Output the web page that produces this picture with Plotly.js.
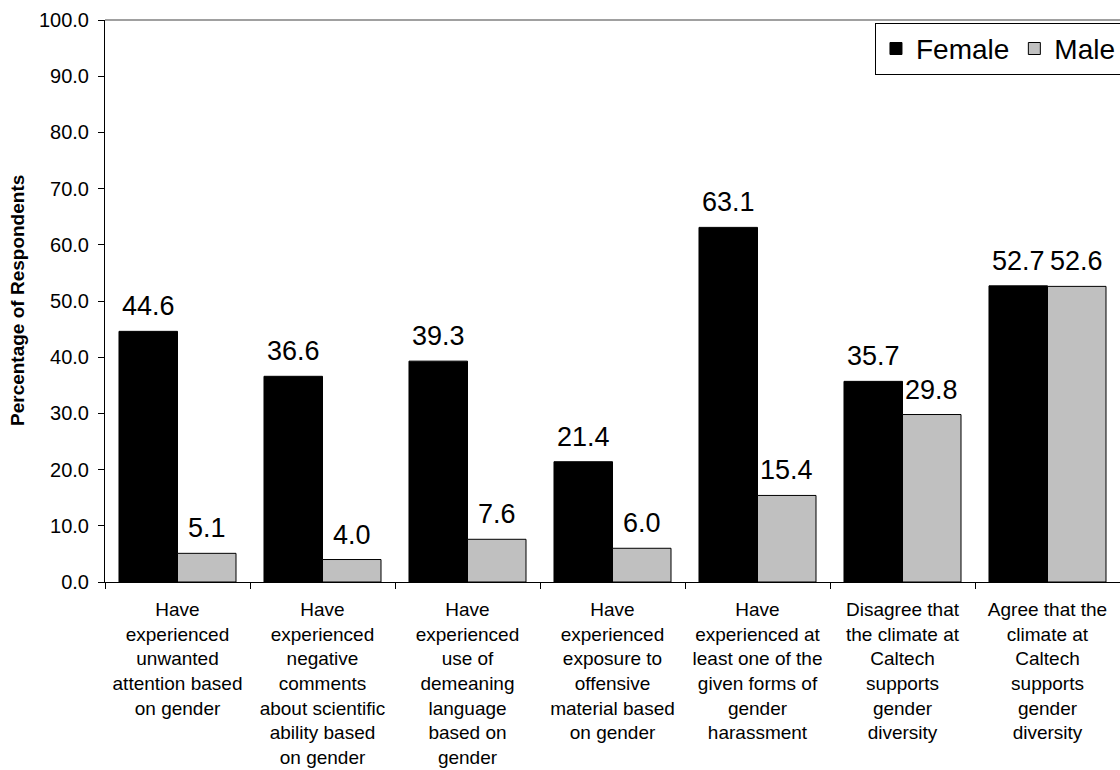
<!DOCTYPE html>
<html>
<head>
<meta charset="utf-8">
<script src="https://cdn.plot.ly/plotly-3.0.1.min.js"></script>
<style>
  html, body { margin: 0; padding: 0; background: #ffffff; }
  #chart { width: 1120px; height: 770px; }
</style>
</head>
<body>
<div id="chart"></div>
<script>
const categories = [
  "Have<br>experienced<br>unwanted<br>attention based<br>on gender",
  "Have<br>experienced<br>negative<br>comments<br>about scientific<br>ability based<br>on gender",
  "Have<br>experienced<br>use of<br>demeaning<br>language<br>based on<br>gender",
  "Have<br>experienced<br>exposure to<br>offensive<br>material based<br>on gender",
  "Have<br>experienced at<br>least one of the<br>given forms of<br>gender<br>harassment",
  "Disagree that<br>the climate at<br>Caltech<br>supports<br>gender<br>diversity",
  "Agree that the<br>climate at<br>Caltech<br>supports<br>gender<br>diversity"
];
const femaleValues = [44.6, 36.6, 39.3, 21.4, 63.1, 35.7, 52.7];
const maleValues = [5.1, 4.0, 7.6, 6.0, 15.4, 29.8, 52.6];
const yTickValues = [0, 10, 20, 30, 40, 50, 60, 70, 80, 90, 100];
const yTitle = "Percentage of Respondents";

const FONT = "Liberation Sans, Arial, Helvetica, sans-serif";
const bargap = 0.193;

const traces = [
  {
    type: "bar", name: "Female", x: categories, y: femaleValues,
    marker: { color: "#000000", line: { color: "#000000", width: 1 } },
    hoverinfo: "y"
  },
  {
    type: "bar", name: "Male", x: categories, y: maleValues,
    marker: { color: "#c0c0c0", line: { color: "#000000", width: 1 } },
    hoverinfo: "y"
  }
];

const off = (1 - bargap) / 4;
const annotations = [];
femaleValues.forEach((v, i) => annotations.push({
  x: i - off, y: v, xref: "x", yref: "y", text: v.toFixed(1), showarrow: false,
  yanchor: "bottom", yshift: 8, font: { family: FONT, size: 27, color: "#000" }
}));
maleValues.forEach((v, i) => annotations.push({
  x: i + off, y: v, xref: "x", yref: "y", text: v.toFixed(1), showarrow: false,
  yanchor: "bottom", yshift: 8, font: { family: FONT, size: 27, color: "#000" }
}));
annotations.push({
  x: 0, y: 0.5, xref: "paper", yref: "paper", xanchor: "center", yanchor: "middle",
  xshift: -88, textangle: -90, showarrow: false,
  text: "<b>" + yTitle + "</b>", font: { family: FONT, size: 19, color: "#000" }
});

const layout = {
  width: 1120, height: 770,
  margin: { l: 105, r: 0, t: 20, b: 188, autoexpand: false },
  paper_bgcolor: "#ffffff", plot_bgcolor: "#ffffff",
  font: { family: FONT, color: "#000" },
  barmode: "group", bargap: bargap, bargroupgap: 0,
  showlegend: true,
  legend: {
    orientation: "h", x: 0.7586, y: 0.995, xanchor: "left", yanchor: "top",
    bordercolor: "#000", borderwidth: 1, bgcolor: "#fff",
    font: { family: FONT, size: 28, color: "#000" },
    tracegroupgap: 0
  },
  xaxis: {
    type: "category",
    ticks: "outside", tickson: "boundaries", ticklen: 6, tickcolor: "#000", tickwidth: 1,
    showgrid: false, zeroline: false,
    showline: true, linecolor: "#000", linewidth: 1,
    tickfont: { family: FONT, size: 19, color: "#000" },
    ticklabelstandoff: 10,
    automargin: false, fixedrange: true
  },
  yaxis: {
    range: [0, 100], tickmode: "array", tickvals: yTickValues,
    ticktext: yTickValues.map(v => v.toFixed(1)),
    ticks: "outside", ticklen: 6, tickcolor: "#000", tickwidth: 1,
    showline: true, linecolor: "#000", linewidth: 1,
    showgrid: false, zeroline: false,
    tickfont: { family: FONT, size: 20, color: "#000" },
    ticklabelstandoff: 5,
    automargin: false, fixedrange: true
  },
  shapes: [
    { type: "line", xref: "paper", yref: "paper", x0: 0, x1: 1, y0: 1, y1: 1,
      line: { color: "#808080", width: 1.5 } }
  ],
  annotations: annotations
};

Plotly.newPlot("chart", traces, layout, { displayModeBar: false, staticPlot: true });
</script>
</body>
</html>
